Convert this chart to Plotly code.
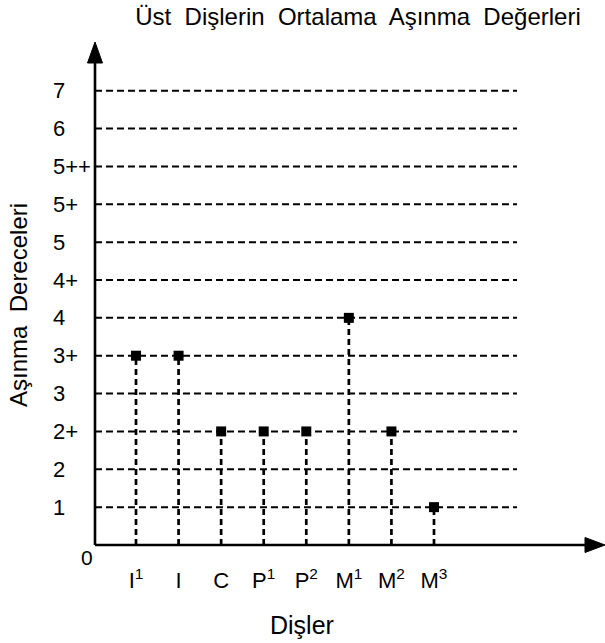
import plotly.graph_objects as go

# ---- data ----
teeth = ["I<sup>1</sup>", "I", "C", "P<sup>1</sup>", "P<sup>2</sup>", "M<sup>1</sup>", "M<sup>2</sup>", "M<sup>3</sup>"]
grade_labels = ["1", "2", "2+", "3", "3+", "4", "4+", "5", "5+", "5++", "6", "7"]
wear_grade = ["3+", "3+", "2+", "2+", "2+", "4", "2+", "1"]

x_pos = list(range(1, len(teeth) + 1))
y_lvl = [grade_labels.index(g) + 1 for g in wear_grade]
grade_pos = list(range(1, len(grade_labels) + 1))

FONT = "Liberation Sans, Arial, sans-serif"
L, R, T, B = 95, 0, 40, 98
W, H = 605, 643
PW, PH = W - L - R, H - T - B
X0, X1 = 0.037, 12.017
Y1 = 13.34
GRID_END = 9.95


def px_x(p):  # pixel -> paper x
    return (p - L) / PW


def px_y(p):  # pixel -> paper y
    return (H - B - p) / PH


fig = go.Figure()

# drop lines from each point to the x axis
for xv, yv in zip(x_pos, y_lvl):
    fig.add_trace(go.Scatter(x=[xv, xv], y=[0, yv], mode="lines",
                             line=dict(color="black", width=2.7, dash="6px,4px"),
                             hoverinfo="skip", showlegend=False))

fig.add_trace(go.Scatter(x=x_pos, y=y_lvl, mode="markers",
                         marker=dict(symbol="square", size=10, color="black"),
                         showlegend=False, cliponaxis=False))

shapes = []
# horizontal dashed grid lines
for yv in grade_pos:
    shapes.append(dict(type="line", xref="x", yref="y", x0=X0, x1=GRID_END, y0=yv, y1=yv,
                       line=dict(color="black", width=2, dash="7px,4px"), layer="below"))
# axes lines (decoration, paper coords)
shapes.append(dict(type="line", xref="paper", yref="paper", x0=0, x1=0, y0=0, y1=px_y(62),
                   line=dict(color="black", width=2.6)))
shapes.append(dict(type="line", xref="paper", yref="paper", x0=0, x1=px_x(588), y0=0, y1=0,
                   line=dict(color="black", width=2.6)))
# arrow heads
shapes.append(dict(type="path", xref="paper", yref="paper",
                   path=f"M {px_x(87.5)},{px_y(63)} L {px_x(95)},{px_y(42)} L {px_x(102.5)},{px_y(63)} Z",
                   fillcolor="black", line=dict(color="black", width=1)))
shapes.append(dict(type="path", xref="paper", yref="paper",
                   path=f"M {px_x(585)},{px_y(537.5)} L {px_x(605)},{px_y(545)} L {px_x(585)},{px_y(552.5)} Z",
                   fillcolor="black", line=dict(color="black", width=1)))

annotations = []
for yp, lab in zip(grade_pos, grade_labels):
    annotations.append(dict(xref="paper", yref="y", x=px_x(51), y=yp, text=lab,
                            xanchor="left", yanchor="middle", showarrow=False,
                            font=dict(family=FONT, size=22, color="black")))
annotations.append(dict(xref="paper", yref="paper", x=px_x(87), y=px_y(557), text="0",
                        xanchor="center", yanchor="middle", showarrow=False,
                        font=dict(family=FONT, size=21, color="black")))
annotations.append(dict(xref="paper", yref="paper", x=px_x(18), y=px_y(305),
                        text="Aşınma  Dereceleri", textangle=-90,
                        xanchor="center", yanchor="middle", showarrow=False,
                        font=dict(family=FONT, size=24, color="black")))
annotations.append(dict(xref="paper", yref="paper", x=px_x(302), y=px_y(625),
                        text="Dişler", xanchor="center", yanchor="middle", showarrow=False,
                        font=dict(family=FONT, size=25, color="black")))

fig.update_layout(
    width=W, height=H,
    margin=dict(l=L, r=R, t=T, b=B, autoexpand=False),
    paper_bgcolor="white", plot_bgcolor="white",
    title=dict(text="Üst  Dişlerin  Ortalama  Aşınma  Değerleri",
               xref="paper", x=px_x(358), xanchor="center",
               yref="container", y=1 - 17 / H, yanchor="middle",
               font=dict(family=FONT, size=24, color="black")),
    xaxis=dict(range=[X0, X1], showgrid=False, zeroline=False, showline=False,
               automargin=False,
               tickmode="array", tickvals=x_pos, ticktext=teeth, ticks="",
               ticklabelstandoff=20,
               tickfont=dict(family=FONT, size=22, color="black")),
    yaxis=dict(range=[0, Y1], showgrid=False, zeroline=False, showline=False,
               automargin=False, showticklabels=False, ticks=""),
    shapes=shapes, annotations=annotations,
)

fig.write_html("out.html", config={"displayModeBar": False},
               post_script="document.body.style.margin='0px';document.body.style.overflow='hidden';")
